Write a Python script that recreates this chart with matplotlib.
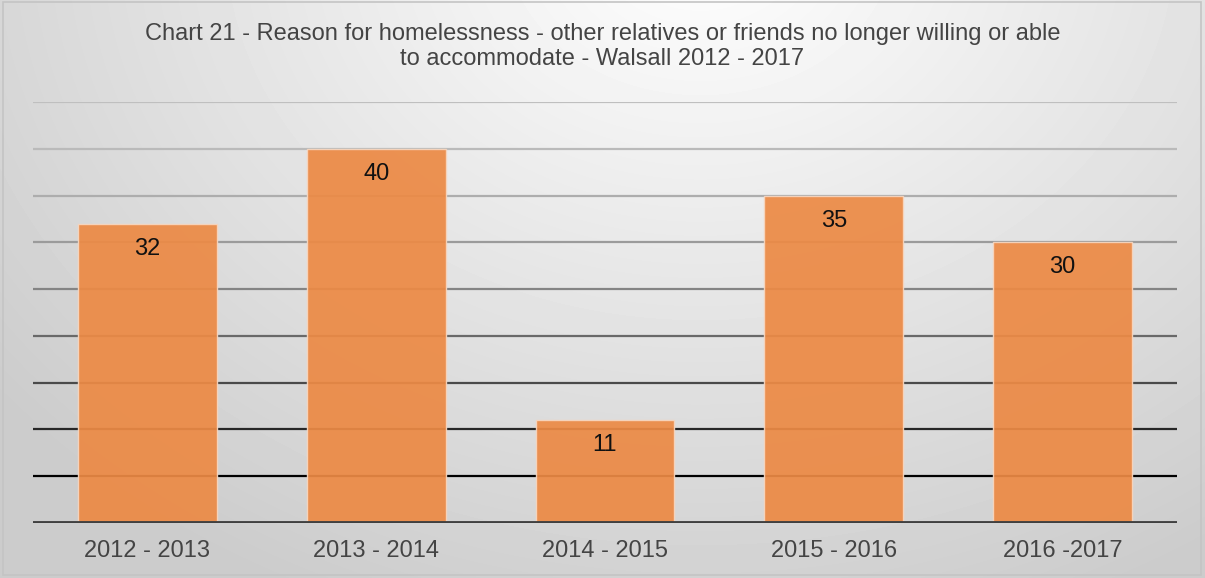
import matplotlib.pyplot as plt
import numpy as np
from matplotlib.patches import Rectangle

plt.rcParams["font.family"] = ["Liberation Sans", "DejaVu Sans"]

categories = ["2012 - 2013", "2013 - 2014", "2014 - 2015", "2015 - 2016", "2016 -2017"]
values = [32, 40, 11, 35, 30]
grid_levels = [5, 10, 15, 20, 25, 30, 35, 40, 45]

W, H = 1205, 578
fig = plt.figure(figsize=(W / 100, H / 100), dpi=100)

# radial grey backdrop, brightest near the top middle
bg = fig.add_axes([0, 0, 1, 1], zorder=0)
yy, xx = np.mgrid[0:H, 0:W]
dist = np.hypot(xx - 700, (yy + 60) / 0.8)
shade = np.clip(1.0 - dist / 900 * 0.2, 0.80, 1.0)
bg.imshow(shade, cmap="gray", vmin=0, vmax=1, aspect="auto", extent=[0, W, H, 0])
bg.set_xlim(0, W)
bg.set_ylim(H, 0)
bg.axis("off")
bg.add_patch(Rectangle((3, 2), W - 7, H - 5, fill=False, ec="#c4c4c4", lw=1.2))

ax = fig.add_axes([33 / W, (H - 523) / H, 1144 / W, (523 - 102) / H], zorder=1)
ax.patch.set_alpha(0)
x = np.arange(len(categories))
ax.set_xlim(-0.5, len(categories) - 0.5)
ax.set_ylim(0, 45)

# gridlines fade from light grey at the top to black near the base
for lvl in grid_levels:
    t = (45 - lvl) / 40
    g = 0.75 * (1 - t ** 1.7)
    ax.axhline(lvl, color=(g, g, g), lw=1.6, zorder=1)
ax.axhline(0, color="#404040", lw=3.5, zorder=4)

bars = ax.bar(x, values, width=0.607, color="#ec8a45", alpha=0.93,
              edgecolor="#f7d6bf", linewidth=1, zorder=2)
for xi, v in zip(x, values):
    ax.annotate(str(v), (xi, v), xytext=(0, -18), textcoords="offset points",
                ha="center", va="center", fontsize=17, color="#111111", zorder=5)

ax.set_xticks(x)
ax.set_xticklabels(categories, fontsize=17, color="#444444")
ax.tick_params(axis="x", length=0, pad=12)
ax.set_yticks([])
for s in ax.spines.values():
    s.set_visible(False)

fig.text(0.5, 1 - 34 / H, "Chart 21 - Reason for homelessness - other relatives or friends no longer willing or able",
         ha="center", va="center", fontsize=17, color="#444444")
fig.text(0.5, 1 - 59 / H, "to accommodate - Walsall 2012 - 2017",
         ha="center", va="center", fontsize=17, color="#444444")

fig.savefig("out.png", dpi=100)
